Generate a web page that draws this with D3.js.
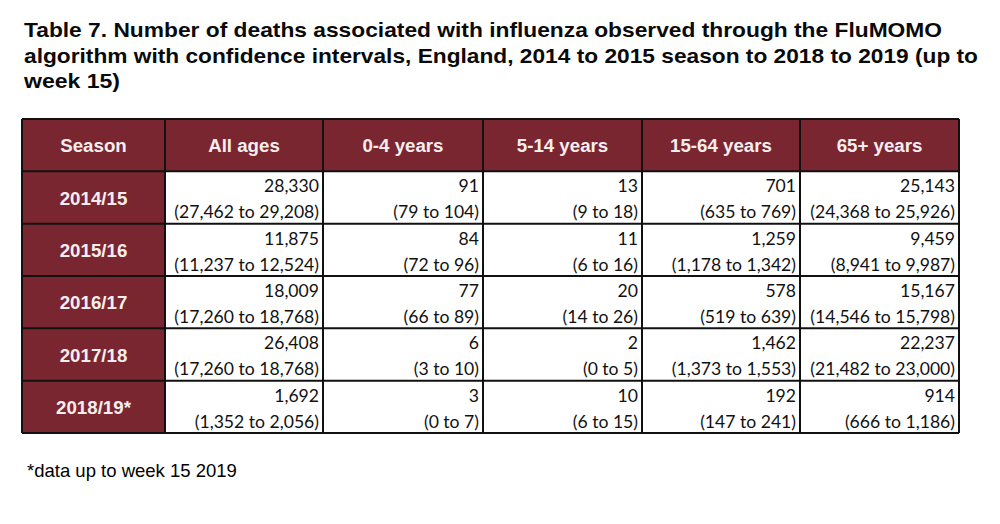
<!DOCTYPE html>
<html>
<head>
<meta charset="UTF-8">
<style>
  html, body { margin: 0; padding: 0; background: #fff; }
</style>
<script src="https://cdn.jsdelivr.net/npm/d3@7"></script>
</head>
<body>
<div id="viz"></div>
<script>
  // table content
  const titleLines = [
    "Table 7. Number of deaths associated with influenza observed through the FluMOMO",
    "algorithm with confidence intervals, England, 2014 to 2015 season to 2018 to 2019 (up to",
    "week 15)"
  ];
  const titleWidths = [918, 954, 96];
  const columns = ["Season", "All ages", "0-4 years", "5-14 years", "15-64 years", "65+ years"];
  const seasons = ["2014/15", "2015/16", "2016/17", "2017/18", "2018/19*"];
  // estimates per season, in column order (all ages, 0-4, 5-14, 15-64, 65+)
  const estimates = [
    [28330, 91, 13, 701, 25143],
    [11875, 84, 11, 1259, 9459],
    [18009, 77, 20, 578, 15167],
    [26408, 6, 2, 1462, 22237],
    [1692, 3, 10, 192, 914]
  ];
  const lower = [
    [27462, 79, 9, 635, 24368],
    [11237, 72, 6, 1178, 8941],
    [17260, 66, 14, 519, 14546],
    [17260, 3, 0, 1373, 21482],
    [1352, 0, 6, 147, 666]
  ];
  const upper = [
    [29208, 104, 18, 769, 25926],
    [12524, 96, 16, 1342, 9987],
    [18768, 89, 26, 639, 15798],
    [18768, 10, 5, 1553, 23000],
    [2056, 7, 15, 241, 1186]
  ];
  const footnote = "*data up to week 15 2019";

  const width = 1000, height = 524;
  const maroon = "#7a2631";
  const fmt = d3.format(",");

  const svg = d3.select("#viz").append("svg")
      .attr("width", width)
      .attr("height", height)
      .style("display", "block");

  // title (slightly stretched in the original)
  svg.append("g")
      .attr("font-family", "Liberation Sans, Arial, sans-serif")
      .attr("font-weight", "bold")
      .attr("font-size", 21)
      .attr("fill", "#0a0a0a")
    .selectAll("text")
    .data(titleLines)
    .join("text")
      .attr("x", 24)
      .attr("y", (d, i) => 37 + i * 25.5)
      .attr("textLength", (d, i) => titleWidths[i])
      .attr("lengthAdjust", "spacingAndGlyphs")
      .text(d => d);

  // column / row bands
  const colEdges = [22, 165, 323, 483, 642, 800, 959];
  const x = d3.scaleOrdinal().domain(columns).range(colEdges.slice(0, -1));
  const colW = c => colEdges[columns.indexOf(c) + 1] - colEdges[columns.indexOf(c)];

  const y = d3.scaleBand()
      .domain(["header", ...seasons])
      .range([119, 433])
      .paddingInner(0);
  const rh = y.bandwidth();

  // header
  const head = svg.append("g");
  head.append("rect")
      .attr("x", colEdges[0]).attr("y", y("header"))
      .attr("width", colEdges[6] - colEdges[0]).attr("height", rh)
      .attr("fill", maroon);
  head.selectAll("text")
    .data(columns)
    .join("text")
      .attr("x", d => x(d) + colW(d) / 2)
      .attr("y", y("header") + rh / 2 + 7)
      .attr("text-anchor", "middle")
      .attr("font-family", "Liberation Sans, Arial, sans-serif")
      .attr("font-weight", "bold")
      .attr("font-size", 18.7)
      .attr("fill", "#f6eeee")
      .text(d => d);

  // season column
  const rows = svg.append("g");
  rows.selectAll("rect")
    .data(seasons)
    .join("rect")
      .attr("x", colEdges[0]).attr("y", d => y(d))
      .attr("width", colW("Season")).attr("height", rh)
      .attr("fill", maroon);
  rows.selectAll("text")
    .data(seasons)
    .join("text")
      .attr("x", colEdges[0] + colW("Season") / 2)
      .attr("y", d => y(d) + rh / 2 + 7)
      .attr("text-anchor", "middle")
      .attr("font-family", "Liberation Sans, Arial, sans-serif")
      .attr("font-weight", "bold")
      .attr("font-size", 18.7)
      .attr("fill", "#f6eeee")
      .text(d => d);

  // value cells
  const cells = [];
  seasons.forEach((s, i) => {
    columns.slice(1).forEach((c, j) => {
      cells.push({season: s, col: c, est: estimates[i][j], lo: lower[i][j], hi: upper[i][j]});
    });
  });
  const cell = svg.append("g")
      .attr("font-family", "Lato, Carlito, Calibri, sans-serif")
      .attr("font-size", 17.6)
      .attr("text-anchor", "end")
      .attr("fill", "#111")
    .selectAll("g")
    .data(cells)
    .join("g")
      .attr("transform", d => `translate(${x(d.col) + colW(d.col) - 4},${y(d.season)})`);
  cell.append("text")
      .attr("y", 21)
      .text(d => fmt(d.est));
  cell.append("text")
      .attr("y", 47)
      .text(d => `(${fmt(d.lo)} to ${fmt(d.hi)})`);

  // grid lines
  const grid = svg.append("g").attr("stroke", "#111").attr("stroke-width", 2);
  grid.selectAll("line.v")
    .data(colEdges)
    .join("line")
      .attr("class", "v")
      .attr("x1", d => d).attr("x2", d => d)
      .attr("y1", 119).attr("y2", 433);
  grid.selectAll("line.h")
    .data(["header", ...seasons, "end"])
    .join("line")
      .attr("class", "h")
      .attr("x1", colEdges[0]).attr("x2", colEdges[6])
      .attr("y1", d => d === "end" ? 433 : y(d))
      .attr("y2", d => d === "end" ? 433 : y(d));

  // footnote
  svg.append("text")
      .attr("x", 27)
      .attr("y", 477)
      .attr("font-family", "Liberation Sans, Arial, sans-serif")
      .attr("font-size", 18.5)
      .text(footnote);
</script>
</body>
</html>
